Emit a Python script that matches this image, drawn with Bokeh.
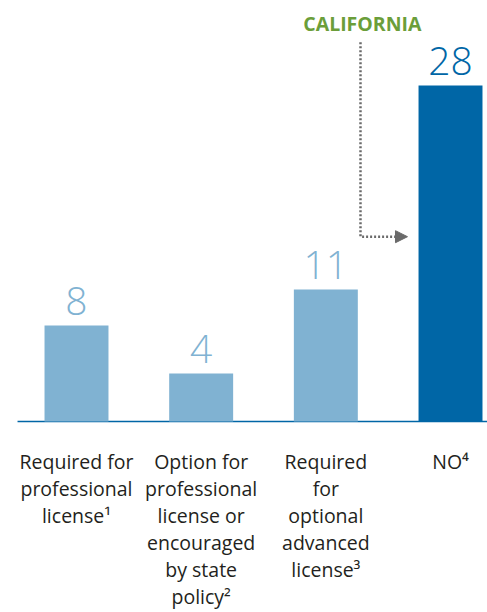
from bokeh.plotting import figure
from bokeh.models import Range1d, ColumnDataSource, Arrow, NormalHead
from bokeh.core.properties import value
from bokeh.embed import file_html
from bokeh.resources import INLINE

# ---- data ----
categories = ["Required for professional license", "Option for professional license or encouraged by state policy",
              "Required for optional advanced license", "NO"]
counts = [8, 4, 11, 28]
label_lines = [
    ["Required for", "professional", "license\u00b9"],
    ["Option for", "professional", "license or", "encouraged", "by state", "policy\u00b2"],
    ["Required", "for", "optional", "advanced", "license\u00b3"],
    ["NO\u2074"],
]
highlight = "NO"
callout = "CALIFORNIA"

LIGHT = "#80b2d2"
DARK = "#0066a6"
GREEN = "#6b9e3a"
GRAY = "#6a6a6a"
TEXT = "#231f20"

xs = list(range(len(categories)))
colors = [DARK if c == highlight else LIGHT for c in categories]

p = figure(width=487, height=612, output_backend="svg", toolbar_location=None,
           x_range=Range1d(-0.6096, 3.2967), y_range=Range1d(-15.917, 35.083),
           min_border=0, outline_line_color=None)
p.axis.visible = False
p.grid.visible = False
p.background_fill_color = None
p.border_fill_color = None

# baseline
p.line(x=[-0.473, 3.2967], y=[0, 0], line_color=DARK, line_width=1.5)

src = ColumnDataSource(dict(x=xs, top=counts, color=colors,
                            label=[str(c) for c in counts]))
p.vbar(x="x", top="top", bottom=0, width=0.513, fill_color="color", line_color=None, source=src)

p.text(x="x", y="top", text="label", source=src, text_color="color",
       text_align="center", text_baseline="alphabetic", y_offset=-24,
       text_font=value("Open Sans Light"), text_font_size="39px")

# category labels
lx, ly, lt, lo = [], [], [], []
for i, lines in enumerate(label_lines):
    for j, t in enumerate(lines):
        lx.append(xs[i]); ly.append(0); lt.append(t); lo.append(40 + 27 * j)
p.text(x=lx, y=ly, text=lt, y_offset=lo, text_align="center", text_baseline="middle",
       text_color=TEXT, text_font=value("Open Sans"), text_font_size="19.5px")

# callout
ci = categories.index(highlight)
ax = ci - 0.722
p.text(x=[ax + 0.015], y=[33.2], text=[callout], text_align="center", text_baseline="middle",
       text_color=GREEN, text_font=value("Open Sans"), text_font_style="bold", text_font_size="19.5px")
p.line(x=[ax, ax, ci - 0.42], y=[31.6, 15.4, 15.4], line_color=GRAY, line_width=2.5, line_dash="2 2")
p.add_layout(Arrow(end=NormalHead(size=12, fill_color=GRAY, line_color=GRAY),
                   x_start=ci - 0.43, y_start=15.4, x_end=ci - 0.345, y_end=15.4,
                   line_color=GRAY, line_width=0))

open("out.html", "w").write(file_html(p, INLINE))
